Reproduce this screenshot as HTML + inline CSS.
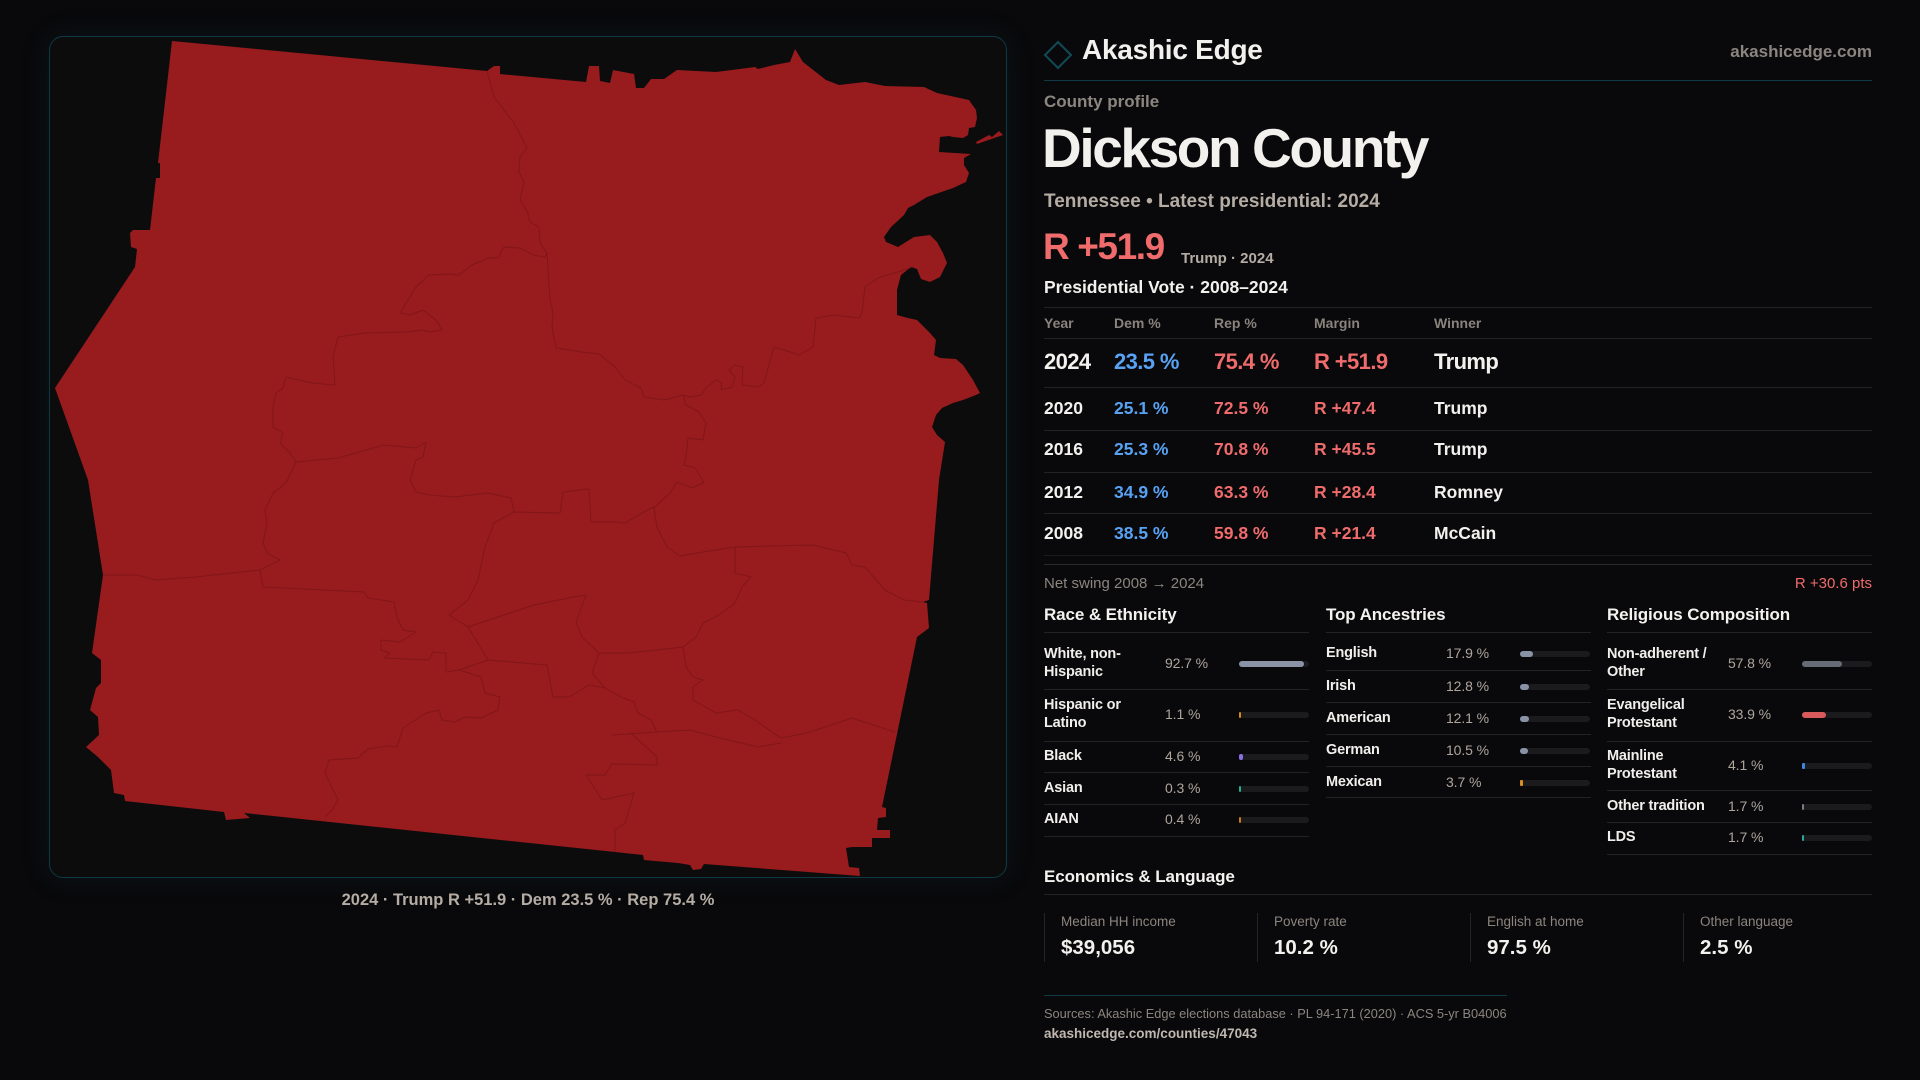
<!DOCTYPE html>
<html><head><meta charset="utf-8"><style>
*{margin:0;padding:0;box-sizing:border-box}
html,body{width:1920px;height:1080px;overflow:hidden;background:#09090b;font-family:"Liberation Sans",Arial,sans-serif}
.t{position:absolute;white-space:nowrap;line-height:1}
.b{font-weight:700}
.panel{position:absolute;left:49px;top:36px;width:958px;height:842px;border:1px solid #0f3a45;border-radius:14px;background:#0c0c0d;box-shadow:0 0 28px rgba(25,70,85,0.18)}
.hl{position:absolute;height:1px;background:#232325}
.bar{position:absolute;height:6px;border-radius:3px;background:#1b1b1e;width:70px}
.bar i{position:absolute;left:0;top:0;height:6px;border-radius:3px;display:block}
.lab{font-size:14.5px;line-height:18px;color:#f1efec;font-weight:700;letter-spacing:-0.2px}
.val{font-size:14px;color:#aea59d;letter-spacing:-0.1px}
.hd{font-size:17px;color:#f4f2ef;font-weight:700;letter-spacing:-0.1px}
.th{font-size:14px;color:#8a837d;font-weight:700}
.r{font-size:17.5px;font-weight:700}
.big{font-size:22px;font-weight:700;letter-spacing:-0.6px}
.w{color:#f3f1ee}.bl{color:#58a2f4}.rd{color:#f06b6b}
.cell{position:absolute;top:913px;height:49px;width:213px;border-left:1px solid #242426}
.cl{position:absolute;left:16px;top:2px;font-size:13.5px;color:#8c857f;white-space:nowrap;line-height:1}
.cv{position:absolute;left:16px;top:25px;font-size:20.5px;color:#f3f1ee;font-weight:700;white-space:nowrap;line-height:1}
</style></head><body>

<div class="panel"></div>
<svg style="position:absolute;left:0;top:0" width="1020" height="900" viewBox="0 0 1020 900">
<polygon fill="#981b1e" points="172,41 487,71 494,66 500,66 500,74 586,82 589,66 599,66 600,81 610,83 613,70 634,74 636,88 644,88 651,79 664,79 677,70 716,72 755,67 758,69 774,65 790,62 795,49 803,62 826,80 839,85 865,82 885,86 924,87 937,93 969,100 976,110 977,118 975,127 969,128 968,135 963,138 953,137 949,136 940,137 939,152 971,154 964,158 964,165 969,173 966,182 953,188 927,197 914,205 908,208 904,215 891,227 884,237 886,242 898,247 914,237 930,235 937,242 943,253 947,263 940,277 930,282 921,279 917,269 911,267 901,275 897,290 897,315 908,318 917,320 930,333 936,340 934,355 940,358 956,359 963,365 973,380 980,393 976,395 963,400 953,403 942,408 936,415 932,427 937,435 945,442 939,480 929,600 923,602 927,603 929,628 917,637 882,807 886,808 886,817 878,818 877,830 890,830 890,838 872,838 872,847 852,847 846,848 849,867 859,868 860,876 704,864 701,869 693,870 690,865 678,863 644,860 643,855 615,852 244,813 250,818 226,820 224,812 125,801 124,795 114,793 111,770 98,757 86,747 99,735 98,717 90,710 96,688 101,683 101,660 92,653 103,575 88,480 55,388 135,267 137,249 131,247 130,233 133,230 150,230 156,178 160,178 160,163 158,163"/>
<polygon fill="#981b1e" points="976,142 989,135 992,137 999,131 1003,135 977,144"/>
<g fill="none" stroke="#6b1214" stroke-width="1" stroke-opacity="0.5" stroke-linejoin="round">
<polyline points="487,71 494,97 514,123 527,148 520,157 519,172 524,182 520,200 528,213 530,222 539,227 540,243 547,253 550,300 553,313 552,327 556,348 582,352 599,354 615,367 625,380 641,388 644,397 664,400 683,395 690,397 701,395 706,388 716,380 722,383 721,390 732,387 735,377 729,370 735,365 743,367 742,385 758,387 764,383 774,347 790,352 799,355 813,347 816,318 833,315 859,318 862,313 865,287 878,278 914,267"/>
<polyline points="547,253 545,257 533,255 520,248 504,247 498,258 488,258 472,265 459,275 449,274 429,275 416,287 400,313 410,315 423,310 436,320 442,330 429,332 423,330 407,332 364,333 338,337 333,357 335,385 312,383 286,377 283,388 276,393 273,408 273,427 283,433 280,443 290,453 296,462 286,483 273,493 265,510 267,523 263,543 267,553 280,560 260,570 195,577 156,580 137,575 103,575"/>
<polyline points="260,570 263,587 364,592 368,598 394,602 397,617 403,630 416,632 400,642 381,640 381,650 390,653 384,658 429,660 433,652 446,653 446,672 459,670 488,660 468,627 449,615"/>
<polyline points="296,462 338,458 384,445 416,448 426,442 423,457 416,460 410,480 416,492 429,495 455,497 488,493 511,498 514,512 494,523 485,547 478,580 468,600 449,615"/>
<polyline points="514,512 560,513 563,492 589,489 591,522 615,522 625,523 651,508 654,507"/>
<polyline points="683,395 686,405 699,412 706,423 703,440 688,438 686,457 684,465 695,468 704,482 693,488 677,482 670,493 654,508 657,527 667,547 680,556 703,552 735,547 813,545 846,553 852,565 865,567 885,590 904,600 923,602"/>
<polyline points="735,547 735,573 751,577 742,587 735,603 719,615 703,623 696,637 683,647 657,650 628,653 599,653"/>
<polyline points="468,627 534,605 573,597 586,595 576,622 582,637 599,653 592,673 605,688 621,697 634,702 638,713 651,720 657,732"/>
<polyline points="488,660 547,665 553,697 569,697 589,685 605,688"/>
<polyline points="459,670 481,677 485,693 500,697 498,710 481,718 465,717 455,722 442,720 439,710 426,713 403,728 397,747 387,746 368,749 358,758 329,760 325,773 338,800 332,810 325,817"/>
<polyline points="683,647 686,667 693,677 703,680 693,687 693,700 716,713 738,710 755,720 781,738 807,733 852,718 895,732"/>
<polyline points="612,735 657,732 690,730 716,737 758,747 781,743"/>
<polyline points="631,733 657,757 657,765 612,764 605,775 586,775 602,800 634,793 625,823 615,830 615,852"/>
</g>
</svg>
<div class="t b" style="left:49px;width:958px;text-align:center;top:892px;font-size:16.5px;color:#b5aca4">2024 · Trump R +51.9 · Dem 23.5 % · Rep 75.4 %</div>

<svg style="position:absolute;left:1042px;top:39px" width="32" height="32" viewBox="0 0 32 32"><polygon points="16,3 29,16 16,29 3,16" fill="none" stroke="#0f4b57" stroke-width="2"/></svg>
<div class="t b" style="left:1082px;top:35.5px;font-size:28px;color:#f3f1ee;letter-spacing:-0.25px">Akashic Edge</div>
<div class="t b" style="right:48px;top:42.5px;font-size:17px;color:#8b8580">akashicedge.com</div>
<div class="hl" style="left:1044px;top:80px;width:828px;background:#103b45"></div>

<div class="t b" style="left:1044px;top:92.6px;font-size:17px;color:#8c8680">County profile</div>
<div class="t b" style="left:1042px;top:121.4px;font-size:55px;color:#f3f1ee;letter-spacing:-2.4px">Dickson County</div>
<div class="t b" style="left:1044px;top:191.9px;font-size:19px;color:#b5aca4">Tennessee • Latest presidential: 2024</div>
<div class="t b" style="left:1043px;top:227.7px;font-size:37px;color:#f06b6b;letter-spacing:-1.4px">R +51.9</div>
<div class="t b" style="left:1181px;top:251.3px;font-size:15px;color:#b5aca4">Trump · 2024</div>
<div class="t b" style="left:1044px;top:279.2px;font-size:17.5px;color:#f3f1ee">Presidential Vote · 2008–2024</div>

<div class="hl" style="left:1044px;top:307px;width:828px"></div>
<div class="t th" style="left:1044px;top:315.5px">Year</div>
<div class="t th" style="left:1114px;top:315.5px">Dem %</div>
<div class="t th" style="left:1214px;top:315.5px">Rep %</div>
<div class="t th" style="left:1314px;top:315.5px">Margin</div>
<div class="t th" style="left:1434px;top:315.5px">Winner</div>
<div class="hl" style="left:1044px;top:338px;width:828px"></div>

<div class="t big w" style="left:1044px;top:350.7px">2024</div>
<div class="t big bl" style="left:1114px;top:350.7px">23.5 %</div>
<div class="t big rd" style="left:1214px;top:350.7px">75.4 %</div>
<div class="t big rd" style="left:1314px;top:350.7px">R +51.9</div>
<div class="t big w" style="left:1434px;top:350.7px">Trump</div>
<div class="hl" style="left:1044px;top:387px;width:828px"></div>

<div class="t r w" style="left:1044px;top:399.5px">2020</div>
<div class="t r bl" style="left:1114px;top:399.5px">25.1 %</div>
<div class="t r rd" style="left:1214px;top:399.5px">72.5 %</div>
<div class="t r rd" style="left:1314px;top:399.5px">R +47.4</div>
<div class="t r w" style="left:1434px;top:399.5px">Trump</div>
<div class="hl" style="left:1044px;top:430px;width:828px"></div>

<div class="t r w" style="left:1044px;top:440.5px">2016</div>
<div class="t r bl" style="left:1114px;top:440.5px">25.3 %</div>
<div class="t r rd" style="left:1214px;top:440.5px">70.8 %</div>
<div class="t r rd" style="left:1314px;top:440.5px">R +45.5</div>
<div class="t r w" style="left:1434px;top:440.5px">Trump</div>
<div class="hl" style="left:1044px;top:472px;width:828px"></div>

<div class="t r w" style="left:1044px;top:483.5px">2012</div>
<div class="t r bl" style="left:1114px;top:483.5px">34.9 %</div>
<div class="t r rd" style="left:1214px;top:483.5px">63.3 %</div>
<div class="t r rd" style="left:1314px;top:483.5px">R +28.4</div>
<div class="t r w" style="left:1434px;top:483.5px">Romney</div>
<div class="hl" style="left:1044px;top:513px;width:828px"></div>

<div class="t r w" style="left:1044px;top:524.5px">2008</div>
<div class="t r bl" style="left:1114px;top:524.5px">38.5 %</div>
<div class="t r rd" style="left:1214px;top:524.5px">59.8 %</div>
<div class="t r rd" style="left:1314px;top:524.5px">R +21.4</div>
<div class="t r w" style="left:1434px;top:524.5px">McCain</div>
<div class="hl" style="left:1044px;top:555px;width:828px;background:#1c1c1e"></div>
<div class="hl" style="left:1044px;top:564px;width:828px;background:#2a2a2c"></div>

<div class="t" style="left:1044px;top:575.6px;font-size:15px;color:#8c857f">Net swing 2008 → 2024</div>
<div class="t" style="right:48px;top:575.6px;font-size:15px;color:#f06b6b">R +30.6 pts</div>

<div class="t hd" style="left:1044px;top:605.7px">Race &amp; Ethnicity</div>
<div class="hl" style="left:1044px;top:632px;width:265px"></div>
<div class="t lab" style="left:1044px;top:644.5px">White, non-<br>Hispanic</div>
<div class="t val" style="left:1165px;top:656px">92.7 %</div>
<div class="bar" style="left:1239px;top:661px"><i style="width:65px;background:#8a93a6"></i></div>
<div class="hl" style="left:1044px;top:689px;width:265px"></div>
<div class="t lab" style="left:1044px;top:696px">Hispanic or<br>Latino</div>
<div class="t val" style="left:1165px;top:707px">1.1 %</div>
<div class="bar" style="left:1239px;top:712px"><i style="width:2px;border-radius:1px;background:#d48a1c"></i></div>
<div class="hl" style="left:1044px;top:741px;width:265px"></div>
<div class="t lab" style="left:1044px;top:747px">Black</div>
<div class="t val" style="left:1165px;top:749px">4.6 %</div>
<div class="bar" style="left:1239px;top:754px"><i style="width:4px;background:#8b6fe0"></i></div>
<div class="hl" style="left:1044px;top:772px;width:265px"></div>
<div class="t lab" style="left:1044px;top:779px">Asian</div>
<div class="t val" style="left:1165px;top:781px">0.3 %</div>
<div class="bar" style="left:1239px;top:786px"><i style="width:2px;border-radius:1px;background:#22b090"></i></div>
<div class="hl" style="left:1044px;top:804px;width:265px"></div>
<div class="t lab" style="left:1044px;top:810px">AIAN</div>
<div class="t val" style="left:1165px;top:812px">0.4 %</div>
<div class="bar" style="left:1239px;top:817px"><i style="width:2px;border-radius:1px;background:#c77a1e"></i></div>
<div class="hl" style="left:1044px;top:836px;width:265px"></div>

<div class="t hd" style="left:1326px;top:605.7px">Top Ancestries</div>
<div class="hl" style="left:1326px;top:632px;width:265px"></div>
<div class="t lab" style="left:1326px;top:644px">English</div>
<div class="t val" style="left:1446px;top:646px">17.9 %</div>
<div class="bar" style="left:1520px;top:651px"><i style="width:12.5px;background:#8a93a6"></i></div>
<div class="hl" style="left:1326px;top:670px;width:265px"></div>
<div class="t lab" style="left:1326px;top:677px">Irish</div>
<div class="t val" style="left:1446px;top:679px">12.8 %</div>
<div class="bar" style="left:1520px;top:684px"><i style="width:9px;background:#8a93a6"></i></div>
<div class="hl" style="left:1326px;top:702px;width:265px"></div>
<div class="t lab" style="left:1326px;top:709px">American</div>
<div class="t val" style="left:1446px;top:711px">12.1 %</div>
<div class="bar" style="left:1520px;top:716px"><i style="width:8.5px;background:#8a93a6"></i></div>
<div class="hl" style="left:1326px;top:734px;width:265px"></div>
<div class="t lab" style="left:1326px;top:741px">German</div>
<div class="t val" style="left:1446px;top:743px">10.5 %</div>
<div class="bar" style="left:1520px;top:748px"><i style="width:7.5px;background:#8a93a6"></i></div>
<div class="hl" style="left:1326px;top:766px;width:265px"></div>
<div class="t lab" style="left:1326px;top:773px">Mexican</div>
<div class="t val" style="left:1446px;top:775px">3.7 %</div>
<div class="bar" style="left:1520px;top:780px"><i style="width:3px;border-radius:1px;background:#d99020"></i></div>
<div class="hl" style="left:1326px;top:797px;width:265px"></div>

<div class="t hd" style="left:1607px;top:605.7px">Religious Composition</div>
<div class="hl" style="left:1607px;top:632px;width:265px"></div>
<div class="t lab" style="left:1607px;top:644.5px">Non-adherent /<br>Other</div>
<div class="t val" style="left:1728px;top:656px">57.8 %</div>
<div class="bar" style="left:1802px;top:661px"><i style="width:40px;background:#666b76"></i></div>
<div class="hl" style="left:1607px;top:689px;width:265px"></div>
<div class="t lab" style="left:1607px;top:696px">Evangelical<br>Protestant</div>
<div class="t val" style="left:1728px;top:707px">33.9 %</div>
<div class="bar" style="left:1802px;top:712px"><i style="width:24px;background:#d95a5c"></i></div>
<div class="hl" style="left:1607px;top:741px;width:265px"></div>
<div class="t lab" style="left:1607px;top:747px">Mainline<br>Protestant</div>
<div class="t val" style="left:1728px;top:758px">4.1 %</div>
<div class="bar" style="left:1802px;top:763px"><i style="width:3px;border-radius:1px;background:#3f86e0"></i></div>
<div class="hl" style="left:1607px;top:790px;width:265px"></div>
<div class="t lab" style="left:1607px;top:797px">Other tradition</div>
<div class="t val" style="left:1728px;top:799px">1.7 %</div>
<div class="bar" style="left:1802px;top:804px"><i style="width:2px;border-radius:1px;background:#7a7d86"></i></div>
<div class="hl" style="left:1607px;top:822px;width:265px"></div>
<div class="t lab" style="left:1607px;top:828px">LDS</div>
<div class="t val" style="left:1728px;top:830px">1.7 %</div>
<div class="bar" style="left:1802px;top:835px"><i style="width:2px;border-radius:1px;background:#2aa7a0"></i></div>
<div class="hl" style="left:1607px;top:854px;width:265px"></div>

<div class="t hd" style="left:1044px;top:867.7px">Economics &amp; Language</div>
<div class="hl" style="left:1044px;top:894px;width:828px"></div>
<div class="cell" style="left:1044px"><div class="cl">Median HH income</div><div class="cv">$39,056</div></div>
<div class="cell" style="left:1257px"><div class="cl">Poverty rate</div><div class="cv">10.2 %</div></div>
<div class="cell" style="left:1470px"><div class="cl">English at home</div><div class="cv">97.5 %</div></div>
<div class="cell" style="left:1683px"><div class="cl">Other language</div><div class="cv">2.5 %</div></div>

<div class="hl" style="left:1044px;top:995px;width:463px;background:#103b45"></div>
<div class="t" style="left:1044px;top:1007.6px;font-size:12.8px;color:#8c857f">Sources: Akashic Edge elections database · PL 94-171 (2020) · ACS 5-yr B04006</div>
<div class="t b" style="left:1044px;top:1027px;font-size:13.5px;color:#c0b8b0">akashicedge.com/counties/47043</div>
</body></html>
